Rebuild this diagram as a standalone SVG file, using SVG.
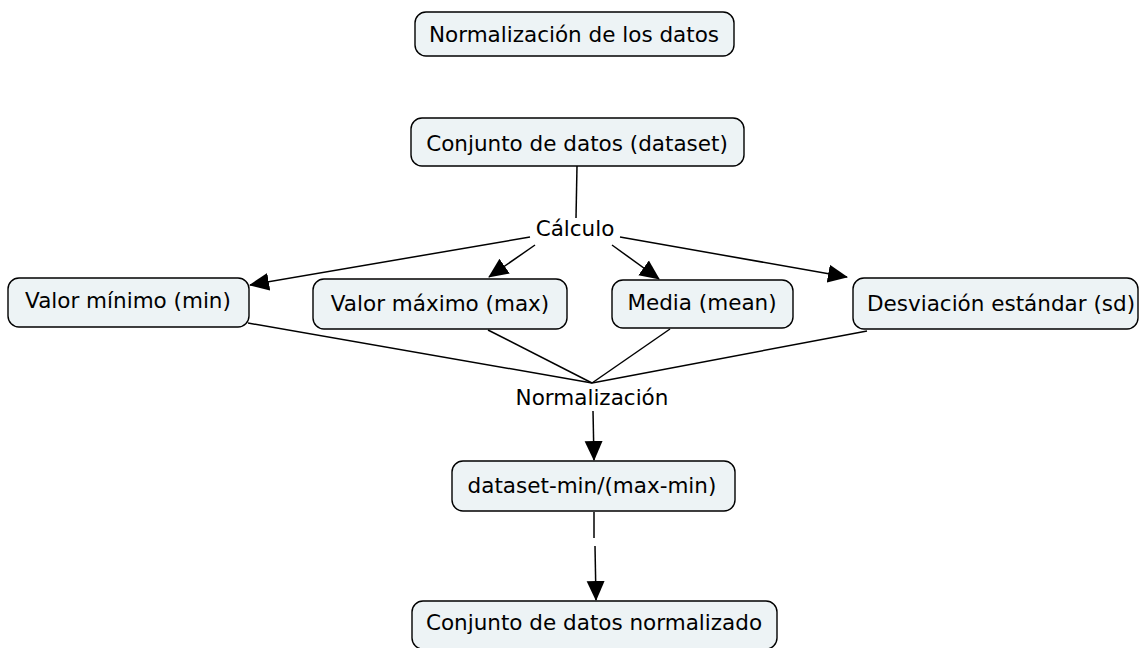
<svg xmlns="http://www.w3.org/2000/svg" width="1143" height="648" viewBox="0 0 1143 648">
<defs>
<style>
.n rect{fill:#edf3f5;stroke:#000;stroke-width:1.4}
text{font-family:"DejaVu Sans",Verdana,sans-serif;font-size:21.5px;fill:#000;text-anchor:middle}
.c line{stroke:#000;stroke-width:1.5;fill:none}
</style>
<marker id="a" viewBox="0 0 20 20" refX="19" refY="10" markerWidth="20" markerHeight="20" markerUnits="userSpaceOnUse" orient="auto">
<path d="M0,1 L20,10 L0,19 Z" fill="#000"/>
</marker>
</defs>
<rect width="1143" height="648" fill="#fff"/>
<g class="c" id="connectors">
<line x1="577" y1="166" x2="576" y2="218"/>
<line x1="530" y1="237" x2="250" y2="285" marker-end="url(#a)"/>
<line x1="535" y1="245" x2="489" y2="277" marker-end="url(#a)"/>
<line x1="612" y1="245" x2="659" y2="279" marker-end="url(#a)"/>
<line x1="620" y1="237" x2="847" y2="277" marker-end="url(#a)"/>
<line x1="248" y1="323" x2="592" y2="383"/>
<line x1="488" y1="330" x2="592" y2="383"/>
<line x1="670" y1="329" x2="592" y2="383"/>
<line x1="867" y1="331" x2="592" y2="383"/>
<line x1="593" y1="411" x2="594" y2="460" marker-end="url(#a)"/>
<line x1="594" y1="512" x2="594" y2="538"/>
<line x1="595" y1="546" x2="596" y2="600" marker-end="url(#a)"/>
</g>
<g id="lbl-calculo"><text x="575" y="236">Cálculo</text></g>
<g id="lbl-normalizacion"><text x="592" y="405">Normalización</text></g>
<g class="n" id="n-title"><rect x="415" y="12" width="319" height="44" rx="11"/><text x="574" y="42">Normalización de los datos</text></g>
<g class="n" id="n-dataset"><rect x="411" y="118" width="333" height="48" rx="11"/><text x="577" y="151">Conjunto de datos (dataset)</text></g>
<g class="n" id="n-min"><rect x="8" y="278" width="241" height="49" rx="11"/><text x="128" y="308">Valor mínimo (min)</text></g>
<g class="n" id="n-max"><rect x="313" y="279" width="254" height="50" rx="11"/><text x="440" y="311">Valor máximo (max)</text></g>
<g class="n" id="n-mean"><rect x="612" y="280" width="181" height="48" rx="11"/><text x="702" y="310">Media (mean)</text></g>
<g class="n" id="n-sd"><rect x="853" y="278" width="285" height="51" rx="11"/><text x="1001" y="311">Desviación estándar (sd)</text></g>
<g class="n" id="n-formula"><rect x="452" y="461" width="283" height="50" rx="11"/><text x="592" y="493">dataset-min/(max-min)</text></g>
<g class="n" id="n-result"><rect x="412" y="601" width="365" height="48" rx="11"/><text x="594" y="630">Conjunto de datos normalizado</text></g>
</svg>
